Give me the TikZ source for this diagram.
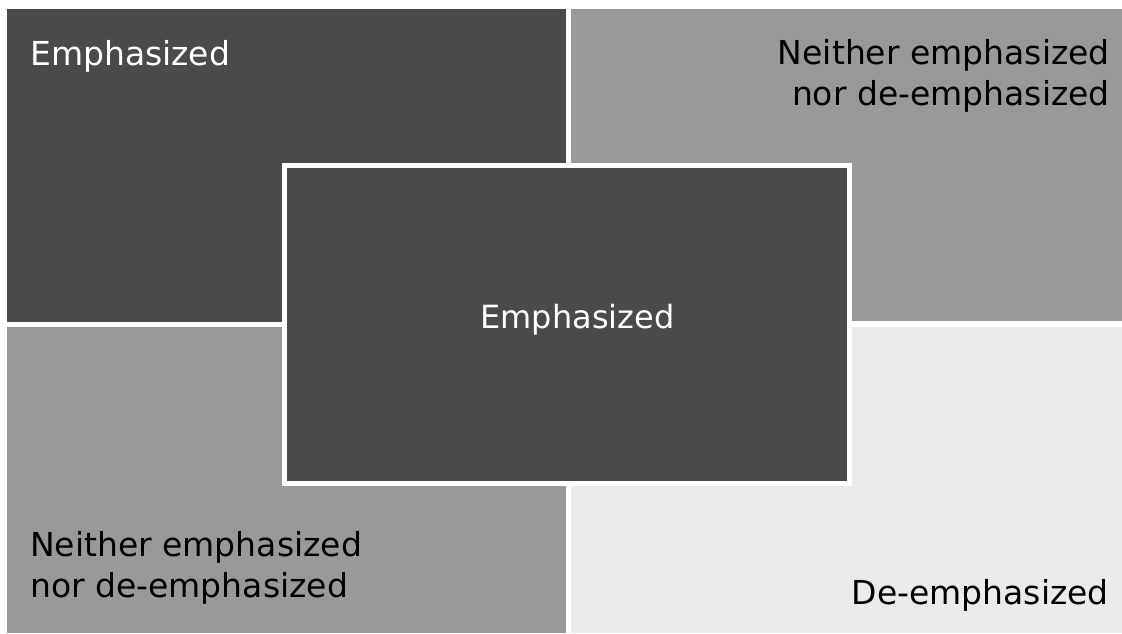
\documentclass[tikz,border=0pt]{standalone}
\usepackage{fontspec}
\setmainfont{DejaVu Sans}
\definecolor{darkq}{HTML}{4A4A4A}
\definecolor{midq}{HTML}{999999}
\definecolor{lightq}{HTML}{EBEBEB}
\tikzset{
  lbl/.style={inner sep=0pt, font=\fontsize{33}{41}\selectfont},
}
\begin{document}
\begin{tikzpicture}[x=1pt,y=-1pt]
\fill[white] (0,0) rectangle (1122,633);
\useasboundingbox (0,0) rectangle (1122,633);
\fill[darkq] (7,9) rectangle (566,322);
\fill[midq] (571,9) rectangle (1122,321);
\fill[midq] (7,327) rectangle (566,633);
\fill[lightq] (571,327) rectangle (1122,633);
\node[draw=white, line width=5pt, fill=darkq, minimum width=564.5pt, minimum height=318pt, inner sep=0pt] (center) at (566.75,324.5) {};
\node[lbl, text=white, anchor=base west] (tlt) at (30,65) {Emphasized};
\node[lbl, text=black, anchor=base east, align=right] (trt) at (1110,105) {Neither emphasized\\nor de-emphasized};
\node[lbl, text=black, anchor=base west, align=left] (blt) at (30,597) {Neither emphasized\\nor de-emphasized};
\node[lbl, text=black, anchor=base east] (brt) at (1109,604) {De-emphasized};
\node[lbl, font=\fontsize{32}{41}\selectfont, text=white, anchor=base] (ct) at (577.5,328) {Emphasized};
\end{tikzpicture}
\end{document}
